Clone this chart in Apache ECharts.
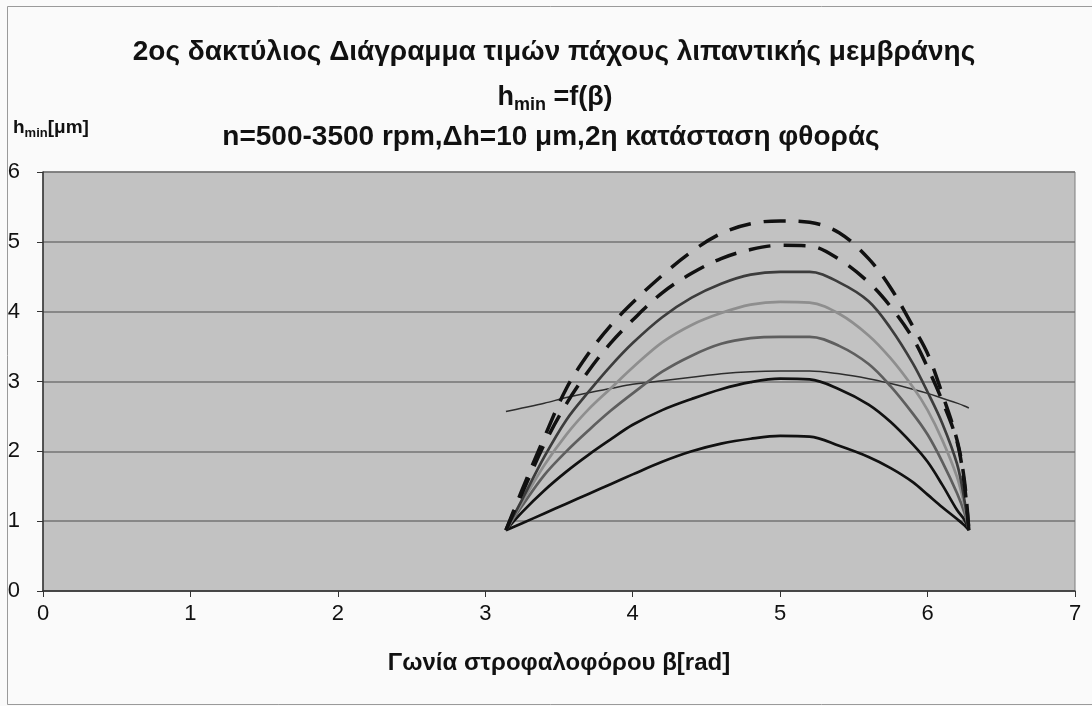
<!DOCTYPE html>
<html>
<head>
<meta charset="utf-8">
<script src="https://cdn.jsdelivr.net/npm/echarts@6/dist/echarts.min.js"></script>
<style>
  html, body { margin: 0; padding: 0; background: #fafafa; }
  #chart { width: 1092px; height: 706px; }
</style>
</head>
<body>
<div id="chart"></div>
<script>
// Crank angle β [rad], sampled over the second half of the cycle
const beta = [3.14, 3.25, 3.4, 3.55, 3.7, 3.85, 4.0, 4.2, 4.4, 4.6, 4.8, 5.0, 5.2, 5.4, 5.6, 5.75, 5.9, 6.0, 6.1, 6.2, 6.25, 6.28];

// Minimum film thickness h_min [μm] for each curve
const curveA = [0.87, 0.97, 1.11, 1.25, 1.39, 1.53, 1.67, 1.85, 2.00, 2.11, 2.18, 2.22, 2.21, 2.08, 1.92, 1.76, 1.56, 1.38, 1.20, 1.03, 0.94, 0.87];
const curveB = [0.87, 1.13, 1.44, 1.71, 1.95, 2.17, 2.38, 2.59, 2.75, 2.89, 2.99, 3.04, 3.03, 2.89, 2.67, 2.42, 2.10, 1.85, 1.52, 1.16, 1.02, 0.87];
const curveThin = [2.57, 2.62, 2.69, 2.77, 2.84, 2.90, 2.96, 3.01, 3.06, 3.11, 3.14, 3.15, 3.15, 3.11, 3.04, 2.97, 2.89, 2.83, 2.76, 2.69, 2.65, 2.62];
const curveC = [0.87, 1.22, 1.66, 2.00, 2.30, 2.58, 2.83, 3.14, 3.37, 3.54, 3.62, 3.64, 3.64, 3.51, 3.25, 2.93, 2.54, 2.24, 1.85, 1.40, 1.12, 0.87];
const curveD = [0.87, 1.27, 1.80, 2.24, 2.60, 2.90, 3.20, 3.56, 3.81, 3.98, 4.10, 4.14, 4.13, 3.97, 3.66, 3.33, 2.92, 2.59, 2.16, 1.63, 1.22, 0.87];
const curveE = [0.87, 1.31, 1.92, 2.45, 2.85, 3.22, 3.55, 3.92, 4.20, 4.40, 4.53, 4.57, 4.57, 4.42, 4.15, 3.76, 3.26, 2.85, 2.40, 1.82, 1.30, 0.87];
const curveF = [0.87, 1.40, 2.10, 2.68, 3.15, 3.55, 3.88, 4.27, 4.55, 4.76, 4.89, 4.95, 4.94, 4.75, 4.42, 4.07, 3.62, 3.20, 2.72, 2.14, 1.52, 0.87];
const curveG = [0.87, 1.45, 2.20, 2.90, 3.40, 3.80, 4.13, 4.52, 4.86, 5.12, 5.26, 5.30, 5.28, 5.13, 4.76, 4.34, 3.79, 3.40, 2.82, 2.16, 1.58, 0.87];

// Axis ticks
const xTicks = [0, 1, 2, 3, 4, 5, 6, 7];
const yTicks = [0, 1, 2, 3, 4, 5, 6];

const FONT = '"Liberation Sans", Arial, sans-serif';

function pairs(values) {
  return beta.map((b, i) => [b, values[i]]);
}

function line(name, values, color, width, dashed) {
  return {
    name: name,
    type: 'line',
    data: pairs(values),
    smooth: 0.35,
    symbol: 'none',
    silent: true,
    lineStyle: {
      color: color,
      width: width,
      type: dashed ? [22, 13] : 'solid',
      cap: 'butt'
    },
    z: dashed ? 4 : 3
  };
}

const chart = echarts.init(document.getElementById('chart'));

chart.setOption({
  backgroundColor: '#fafafa',
  animation: false,
  title: [
    {
      text: '2ος δακτύλιος Διάγραμμα τιμών πάχους λιπαντικής μεμβράνης',
      left: 549, top: 33, textAlign: 'center',
      textStyle: { fontFamily: FONT, fontSize: 28, fontWeight: 'bold', color: '#111' }
    },
    {
      text: '{m|h}{s|min}{m| =f(β)}',
      left: 550, top: 77, textAlign: 'center',
      textStyle: {
        rich: {
          m: { fontFamily: FONT, fontSize: 27, fontWeight: 'bold', color: '#111', lineHeight: 32, verticalAlign: 'middle' },
          s: { fontFamily: FONT, fontSize: 18, fontWeight: 'bold', color: '#111', lineHeight: 16, verticalAlign: 'bottom' }
        }
      }
    },
    {
      text: 'n=500-3500 rpm,Δh=10 μm,2η κατάσταση φθοράς',
      left: 546, top: 118, textAlign: 'center',
      textStyle: { fontFamily: FONT, fontSize: 28, fontWeight: 'bold', color: '#111' }
    },
    {
      text: '{m|h}{s|min}{m|[μm]}',
      left: 8, top: 111,
      textStyle: {
        rich: {
          m: { fontFamily: FONT, fontSize: 19, fontWeight: 'bold', color: '#111', lineHeight: 24, verticalAlign: 'middle' },
          s: { fontFamily: FONT, fontSize: 13, fontWeight: 'bold', color: '#111', lineHeight: 11, verticalAlign: 'bottom' }
        }
      }
    }
  ],
  graphic: [
    {
      type: 'rect',
      shape: { x: 7.5, y: 6.5, width: 1100, height: 698 },
      style: { fill: 'none', stroke: '#9a9a9a', lineWidth: 1 },
      silent: true,
      z: -1
    }
  ],
  grid: {
    left: 43, right: 17, top: 172, bottom: 115,
    show: true,
    backgroundColor: '#c2c2c2',
    borderColor: '#7c7c7c',
    borderWidth: 1
  },
  xAxis: {
    type: 'value',
    min: xTicks[0], max: xTicks[xTicks.length - 1], interval: 1,
    name: 'Γωνία στροφαλοφόρου β[rad]',
    nameLocation: 'middle',
    nameGap: 60,
    nameTextStyle: { fontFamily: FONT, fontSize: 24, fontWeight: 'bold', color: '#111' },
    axisLine: { show: true, onZero: false, lineStyle: { color: '#333', width: 1.5 } },
    axisTick: { show: true, inside: false, length: 6, lineStyle: { color: '#333' } },
    axisLabel: { fontFamily: FONT, fontSize: 22, color: '#111', margin: 12 },
    splitLine: { show: false }
  },
  yAxis: {
    type: 'value',
    min: yTicks[0], max: yTicks[yTicks.length - 1], interval: 1,
    axisLine: { show: true, onZero: false, lineStyle: { color: '#333', width: 1.5 } },
    axisTick: { show: true, inside: false, length: 6, lineStyle: { color: '#333' } },
    axisLabel: { fontFamily: FONT, fontSize: 22, color: '#111', margin: 23 },
    splitLine: { show: true, lineStyle: { color: '#737373', width: 1.5 } }
  },
  series: [
    line('A', curveA, '#111111', 2.7, false),
    line('B', curveB, '#111111', 2.7, false),
    line('thin', curveThin, '#2e2e2e', 1.5, false),
    line('C', curveC, '#5e5e5e', 2.7, false),
    line('D', curveD, '#8e8e8e', 2.7, false),
    line('E', curveE, '#3c3c3c', 2.7, false),
    line('F', curveF, '#111111', 3.5, true),
    line('G', curveG, '#111111', 3.5, true)
  ]
});
</script>
</body>
</html>
